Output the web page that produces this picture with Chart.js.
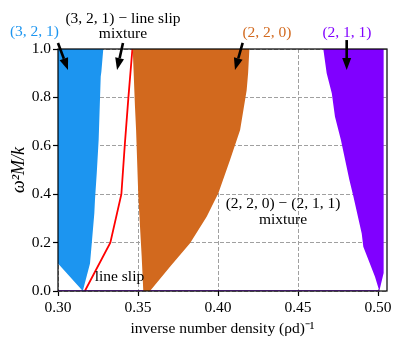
<!DOCTYPE html>
<html>
<head>
<meta charset="utf-8">
<script src="https://cdn.jsdelivr.net/npm/chart.js@4.4.1/dist/chart.umd.min.js"></script>
<style>
  html, body { margin: 0; padding: 0; background: #fff; }
  #wrap { width: 403px; height: 346px; }
</style>
</head>
<body>
<div id="wrap"><canvas id="c"></canvas></div>
<script>
// phase regions, traced as closed outlines (x = inverse density, y = w^2 M/k)
const blueX = [0.300, 0.3283, 0.3271, 0.3267, 0.3254, 0.3242, 0.3231, 0.3227, 0.3211, 0.3200, 0.3155, 0.300]
const blueY = [1.000, 1.000, 0.906, 0.886, 0.624, 0.486, 0.376, 0.321, 0.197, 0.114, 0.000, 0.114]

const orangeX = [0.3467, 0.4196, 0.4188, 0.4179, 0.4138, 0.4075, 0.4002, 0.3929, 0.3825, 0.3700, 0.3575, 0.3533, 0.3523, 0.3502, 0.3488, 0.3481]
const orangeY = [1.000, 1.000, 0.900, 0.830, 0.665, 0.541, 0.404, 0.307, 0.197, 0.100, 0.000, 0.000, 0.142, 0.390, 0.665, 0.762]

const purpleX = [0.4658, 0.5035, 0.5035, 0.5008, 0.4981, 0.4908, 0.4898, 0.4846, 0.4821, 0.4768, 0.4731, 0.4711, 0.4679]
const purpleY = [1.000, 1.000, 0.074, 0.000, 0.059, 0.183, 0.238, 0.390, 0.459, 0.624, 0.720, 0.817, 0.900]

// line slip boundary
const slipX = [0.3168, 0.3327, 0.3396, 0.3417, 0.3440, 0.3465]
const slipY = [0.0, 0.2, 0.4, 0.6, 0.8, 1.0]

const baseX = [0.300, 0.5008]
const baseY = [0.0, 0.0]

const xTicks = [0.30, 0.35, 0.40, 0.45, 0.50]
const xTickLabels = ["0.30", "0.35", "0.40", "0.45", "0.50"]
const yTicks = [0.0, 0.2, 0.4, 0.6, 0.8, 1.0]
const yTickLabels = ["0.0", "0.2", "0.4", "0.6", "0.8", "1.0"]

const blue = "#1c95f0"
const orange = "#d2691e"
const purple = "#8000ff"

// labels and arrows, in data coordinates
const labels = [
  { text: "(3, 2, 1)", x: 0.2853, y: 1.070, color: blue },
  { text: "(3, 2, 1) \u2212 line slip", x: 0.3406, y: 1.124, color: "#000" },
  { text: "mixture", x: 0.3406, y: 1.062, color: "#000" },
  { text: "(2, 2, 0)", x: 0.4306, y: 1.066, color: orange },
  { text: "(2, 1, 1)", x: 0.4806, y: 1.066, color: purple },
  { text: "line slip", x: 0.3384, y: 0.058, color: "#000" },
  { text: "(2, 2, 0) \u2212 (2, 1, 1)", x: 0.4406, y: 0.360, color: "#000" },
  { text: "mixture", x: 0.4406, y: 0.293, color: "#000" }
]
const arrows = [
  { x0: 0.3000, y0: 1.025, x1: 0.30625, y1: 0.913 },
  { x0: 0.3406, y0: 1.025, x1: 0.3369, y1: 0.913 },
  { x0: 0.4154, y0: 1.025, x1: 0.4106, y1: 0.913 },
  { x0: 0.4804, y0: 1.037, x1: 0.4804, y1: 0.913 }
]

const pts = (xs, ys) => xs.map((x, i) => ({ x, y: ys[i] }))

const font = '"Liberation Serif", "Times New Roman", serif'
Chart.defaults.font.family = font
Chart.defaults.font.size = 15.5
Chart.defaults.color = "#000"

const region = (data, color) => ({
  data,
  borderWidth: 0,
  borderColor: color,
  backgroundColor: color,
  pointRadius: 0,
  fill: "shape",
  tension: 0
})

const extras = {
  id: "extras",
  afterDatasetsDraw(chart) {
    const { ctx, chartArea, scales } = chart
    const px = v => scales.x.getPixelForValue(v)
    const py = v => scales.y.getPixelForValue(v)
    ctx.save()

    // frame
    ctx.strokeStyle = "#000"
    ctx.lineWidth = 1.2
    ctx.strokeRect(chartArea.left, chartArea.top, chartArea.right - chartArea.left, chartArea.bottom - chartArea.top)

    // arrows
    ctx.fillStyle = "#000"
    ctx.strokeStyle = "#000"
    arrows.forEach(a => {
      const x0 = px(a.x0), y0 = py(a.y0), x1 = px(a.x1), y1 = py(a.y1)
      const ang = Math.atan2(y1 - y0, x1 - x0)
      const hl = 12, hw = 4.5
      const bx = x1 - hl * Math.cos(ang), by = y1 - hl * Math.sin(ang)
      ctx.lineWidth = 2.6
      ctx.beginPath()
      ctx.moveTo(x0, y0)
      ctx.lineTo(bx, by)
      ctx.stroke()
      ctx.beginPath()
      ctx.moveTo(x1, y1)
      ctx.lineTo(bx + hw * Math.sin(ang), by - hw * Math.cos(ang))
      ctx.lineTo(bx - hw * Math.sin(ang), by + hw * Math.cos(ang))
      ctx.closePath()
      ctx.fill()
    })

    // text labels
    ctx.font = "15.5px " + font
    ctx.textAlign = "center"
    ctx.textBaseline = "middle"
    labels.forEach(l => {
      ctx.fillStyle = l.color
      ctx.fillText(l.text, px(l.x), py(l.y))
    })

    // axis titles
    ctx.fillStyle = "#000"
    ctx.fillText("inverse number density (\u03c1d)\u207b\u00b9", (chartArea.left + chartArea.right) / 2, 329)
    ctx.translate(19, (chartArea.top + chartArea.bottom) / 2)
    ctx.rotate(-Math.PI / 2)
    ctx.font = "italic 18px " + font
    ctx.fillText("\u03c9\u00b2M/k", 0, 0)
    ctx.restore()
  }
}

new Chart(document.getElementById("c"), {
  type: "line",
  data: {
    datasets: [
      region(pts(blueX, blueY), blue),
      region(pts(orangeX, orangeY), orange),
      region(pts(purpleX, purpleY), purple),
      {
        data: pts(baseX, baseY),
        borderColor: purple,
        borderWidth: 1.5,
        pointRadius: 0,
        fill: false
      },
      {
        data: pts(slipX, slipY),
        borderColor: "red",
        borderWidth: 1.8,
        pointRadius: 0,
        fill: false,
        tension: 0
      }
    ]
  },
  options: {
    responsive: true,
    maintainAspectRatio: false,
    animation: false,
    layout: { padding: { top: 49, right: 16, left: 0, bottom: 0 } },
    plugins: {
      legend: { display: false },
      tooltip: { enabled: false }
    },
    scales: {
      x: {
        type: "linear",
        min: 0.30,
        max: 0.5056,
        afterBuildTicks: s => { s.ticks = xTicks.map(v => ({ value: v })) },
        afterFit: s => { s.height = 55 },
        ticks: { callback: (v, i) => xTickLabels[i], padding: 3, maxRotation: 0, autoSkip: false },
        grid: { color: "#a0a0a0", lineWidth: 1, tickColor: "#000", tickLength: 5, tickWidth: 1.2 },
        border: { display: false, dash: [4, 2] }
      },
      y: {
        min: 0,
        max: 1.0,
        afterBuildTicks: s => { s.ticks = yTicks.map(v => ({ value: v })) },
        afterFit: s => { s.width = 58 },
        ticks: { callback: (v, i) => yTickLabels[i], padding: 2, autoSkip: false },
        grid: { color: "#a0a0a0", lineWidth: 1, tickColor: "#000", tickLength: 5, tickWidth: 1.2 },
        border: { display: false, dash: [4, 2] }
      }
    }
  },
  plugins: [extras]
})
</script>
</body>
</html>
